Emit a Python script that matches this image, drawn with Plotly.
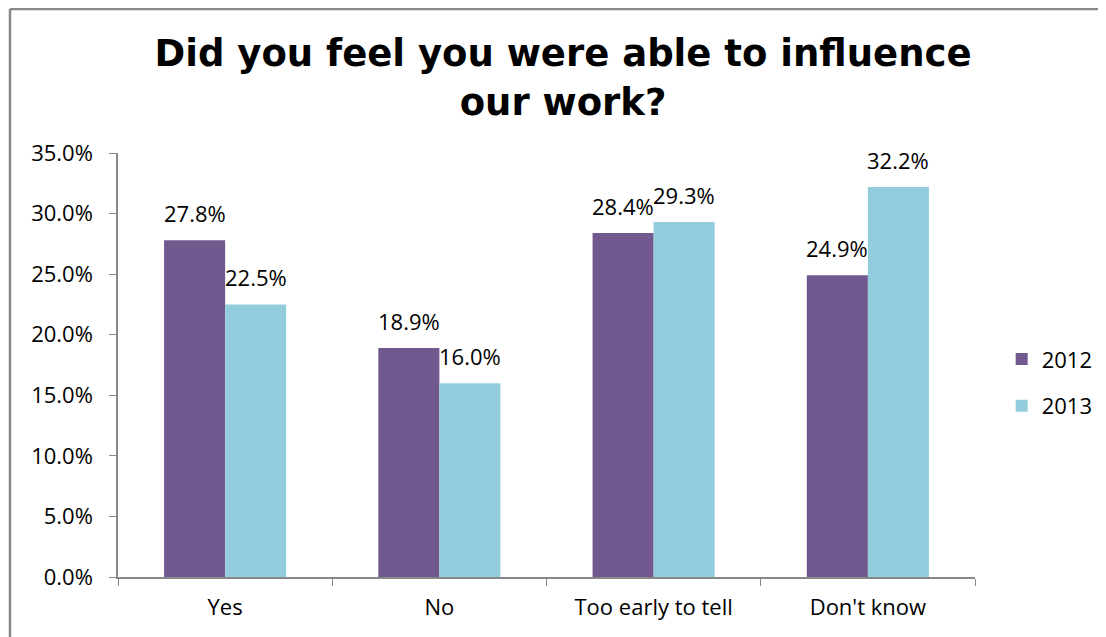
import plotly.graph_objects as go

categories = ["Yes", "No", "Too early to tell", "Don't know"]
v2012 = [27.8, 18.9, 28.4, 24.9]
v2013 = [22.5, 16.0, 29.3, 32.2]
series_names = ["2012", "2013"]
colors = ["#71588F", "#93CDDD"]
tick_vals = [0, 5, 10, 15, 20, 25, 30, 35]
tick_text = ["0.0%", "5.0%", "10.0%", "15.0%", "20.0%", "25.0%", "30.0%", "35.0%"]

FONT = "Open Sans"
FS = 22

fig = go.Figure()
for name, vals, col in zip(series_names, [v2012, v2013], colors):
    fig.add_trace(go.Bar(x=categories, y=vals, name=name, marker_color=col,
                         marker_line_width=0, legendgroup=name))

annotations = []
for vals, shift in [(v2012, -30.5), (v2013, 30.5)]:
    for c, v in zip(categories, vals):
        annotations.append(dict(x=c, y=v, xref="x", yref="y", text=f"{v:.1f}%",
                                showarrow=False, xshift=shift, yanchor="bottom", yshift=10,
                                font=dict(family=FONT, size=FS, color="#000")))

L, T, PW, PH = 110, 145, 857, 424
W, H = 1098, 629

fig.update_layout(
    width=W, height=H,
    margin=dict(l=L, r=W - L - PW, t=T, b=H - T - PH, pad=0, autoexpand=False),
    paper_bgcolor="white", plot_bgcolor="white",
    title=dict(text="<b>Did you feel you were able to influence<br>our work?</b>",
               x=0.5055, xanchor="center", y=0.907, yanchor="top",
               font=dict(family="DejaVu Sans", size=37, color="#000")),
    barmode="group", bargap=0.43, bargroupgap=0,
    xaxis=dict(showline=True, linecolor="#888", linewidth=1.5, ticks="outside",
               tickson="boundaries", ticklen=7, tickcolor="#888", ticklabelstandoff=10,
               tickfont=dict(family=FONT, size=FS, color="#000")),
    yaxis=dict(range=[0, 35], tickvals=tick_vals, ticktext=tick_text, showgrid=False,
               showline=True, linecolor="#888", linewidth=1.5, ticks="outside",
               ticklen=7, tickcolor="#888", zeroline=False, ticklabelstandoff=12,
               tickfont=dict(family=FONT, size=FS, color="#000")),
    legend=dict(xref="container", x=0.905, y=0.458, yref="paper",
                xanchor="left", yanchor="middle",
                traceorder="grouped", tracegroupgap=15,
                font=dict(family=FONT, size=FS, color="#000")),
    annotations=annotations,
    showlegend=True,
)

# chart-area border (top and left edges visible)
bx = (2 - L) / PW
by = 1 + (T - 1) / PH
fig.add_shape(type="line", xref="paper", yref="paper",
              x0=bx, x1=1.3, y0=by, y1=by, line=dict(color="#888", width=2.5))
fig.add_shape(type="line", xref="paper", yref="paper",
              x0=bx, x1=bx, y0=by, y1=-0.3, line=dict(color="#888", width=2.5))

fig.write_html("out.html")
